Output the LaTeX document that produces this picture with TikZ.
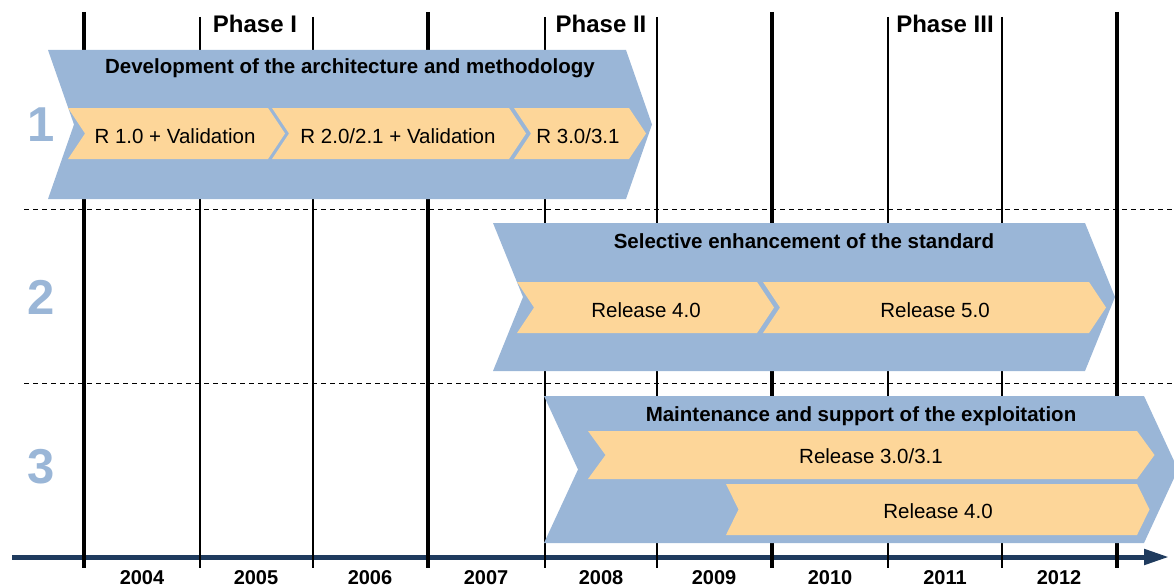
\documentclass[tikz,border=0pt]{standalone}
\usepackage{fontspec}
\setmainfont{Liberation Sans}
\usetikzlibrary{arrows.meta}
\definecolor{chevblue}{HTML}{9AB6D7}
\definecolor{chevorange}{HTML}{FDD699}
\definecolor{axisnavy}{HTML}{1F3B5E}
\definecolor{numblue}{HTML}{9AB6D7}
\tikzset{
  bigchev/.style={fill=chevblue, draw=none},
  smallchev/.style={fill=chevorange, draw=none},
  thickline/.style={line width=3.5pt, black},
  thinline/.style={line width=1.3pt, black},
  rowsep/.style={line width=1pt, dash pattern=on 5pt off 4pt},
  headtxt/.style={font=\fontsize{20.5}{24}\selectfont\bfseries, anchor=base, inner sep=0pt},
  reltxt/.style={font=\fontsize{20.5}{24}\selectfont, anchor=base, inner sep=0pt},
  yeartxt/.style={font=\fontsize{20}{24}\selectfont\bfseries, anchor=base, inner sep=0pt},
  phasetxt/.style={font=\fontsize{24}{28}\selectfont\bfseries, anchor=base, inner sep=0pt},
  numtxt/.style={font=\fontsize{49}{56}\selectfont\bfseries, text=numblue, anchor=base, inner sep=0pt},
}
% chevron: xl, xr, ytop, ybot, depth
\newcommand\chevpath[5]{(#1,#3) -- (#2,#3) -- ({#2+#5},{(#3+#4)/2}) -- (#2,#4) -- (#1,#4) -- ({#1+#5},{(#3+#4)/2}) -- cycle}
\begin{document}
\begin{tikzpicture}[x=1pt,y=-1pt]
\useasboundingbox (0,0) rectangle (1174,586);
% time axis
\coordinate (axstart) at (12,557);
\coordinate (axend) at (1169,557);
\draw[axisnavy, line width=5pt, -{Triangle[length=25pt,width=15pt]}] (axstart) -- (axend);
% row separators
\coordinate (sepAl) at (24,209);
\coordinate (sepAr) at (1174,209);
\coordinate (sepBl) at (24,383);
\coordinate (sepBr) at (1174,383);
\draw[rowsep] (sepAl) -- (sepAr);
\draw[rowsep] (sepBl) -- (sepBr);
% year lines
\foreach \x in {84,428,772,1117} \draw[thickline] (\x,12) -- (\x,568);
\foreach \x in {200,313,545,657,888,1002} \draw[thinline] (\x,17) -- (\x,568);
% row 1
\fill[bigchev] \chevpath{48}{626}{50}{199}{26};
\fill[smallchev] \chevpath{68}{268}{108}{159}{17};
\fill[smallchev] \chevpath{272}{509}{108}{159}{17};
\fill[smallchev] \chevpath{514}{629}{108}{159}{17};
% row 2
\fill[bigchev] \chevpath{493}{1085}{223}{371}{30};
\fill[smallchev] \chevpath{517}{757}{282}{333}{17};
\fill[smallchev] \chevpath{763}{1089}{282}{333}{17};
% row 3
\fill[bigchev] \chevpath{544}{1144}{396}{543}{34};
\fill[smallchev] \chevpath{588}{1137}{431}{479}{17.5};
\fill[smallchev] \chevpath{726}{1137}{484}{535}{12.5};
% texts
\node[phasetxt] (ph1) at (255,33) {Phase I};
\node[phasetxt] (ph2) at (601,33) {Phase II};
\node[phasetxt] (ph3) at (945,33) {Phase III};
\node[numtxt] (n1) at (41,141.5) {1};
\node[numtxt] (n2) at (41,314.5) {2};
\node[numtxt] (n3) at (41,483.5) {3};
\node[headtxt] (h1) at (350,74) {Development of the architecture and methodology};
\node[reltxt] (r1a) at (175,143) {R 1.0 + Validation};
\node[reltxt] (r1b) at (398,143) {R 2.0/2.1 + Validation};
\node[reltxt] (r1c) at (578,143) {R 3.0/3.1};
\node[headtxt] (h2) at (804,248) {Selective enhancement of the standard};
\node[reltxt] (r2a) at (646,317) {Release 4.0};
\node[reltxt] (r2b) at (935,317) {Release 5.0};
\node[headtxt] (h3) at (861,421) {Maintenance and support of the exploitation};
\node[reltxt] (r3a) at (871,463) {Release 3.0/3.1};
\node[reltxt] (r3b) at (938,518) {Release 4.0};
\foreach \yr/\x in {2004/142,2005/256,2006/370,2007/486,2008/601,2009/714,2010/830,2011/945,2012/1059}
  \node[yeartxt] (y\yr) at (\x,584) {\yr};
\end{tikzpicture}
\end{document}
